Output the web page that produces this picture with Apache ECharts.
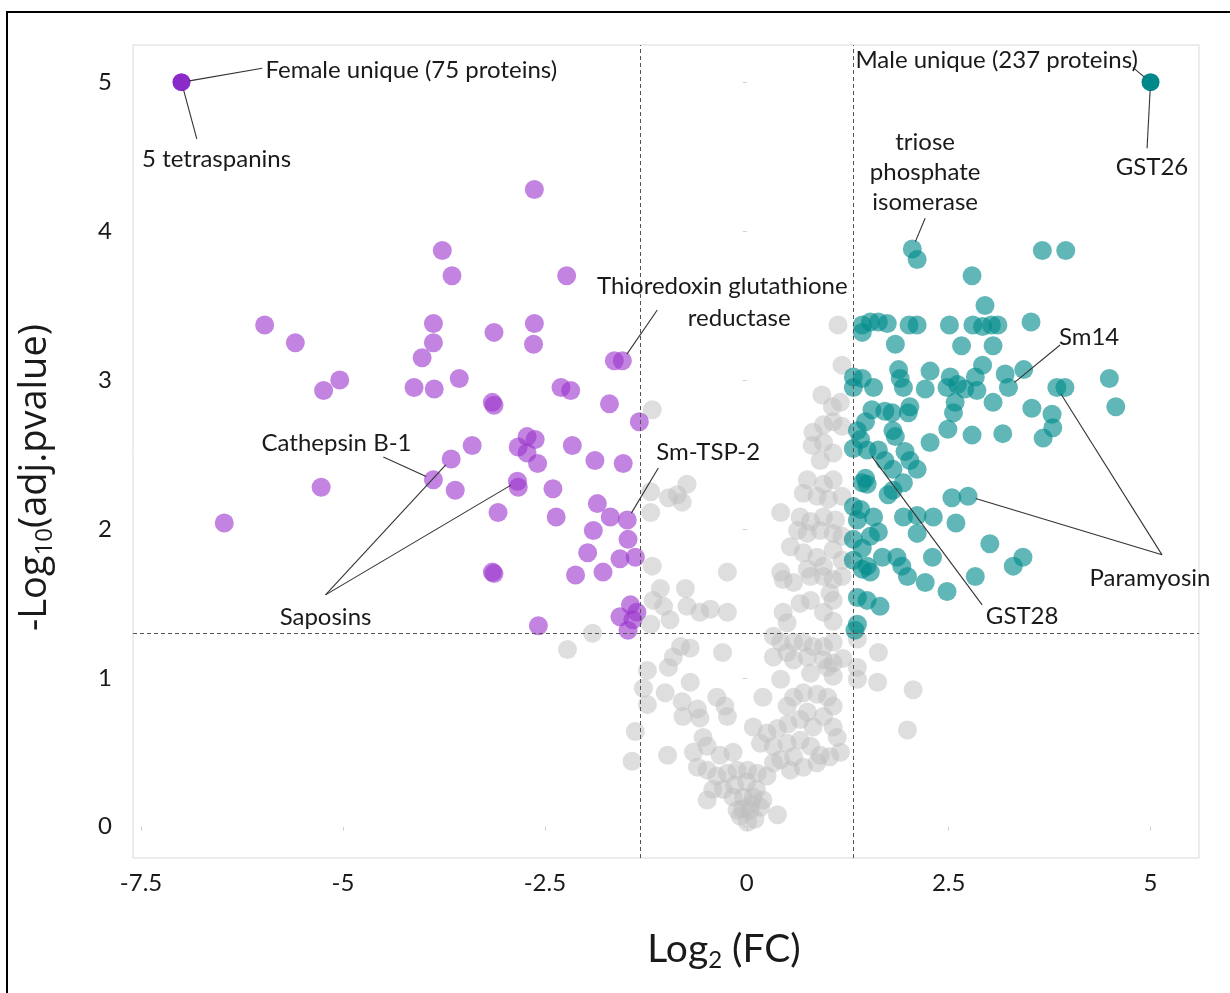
<!DOCTYPE html>
<html>
<head>
<meta charset="utf-8">
<script src="https://cdn.jsdelivr.net/npm/echarts@6/dist/echarts.min.js"></script>
<style>
html,body{margin:0;padding:0;background:#fff;}
#chart{width:1230px;height:993px;}
</style>
</head>
<body>
<div id="chart"></div>
<script>
// ---------------- DATA ----------------
const xTickValues = [-7.5, -5, -2.5, 0, 2.5, 5];
const yTickValues = [0, 1, 2, 3, 4, 5];
const fcCutoffs = [-1.32, 1.32];
const pCutoff = 1.3;

const femaleUnique = [[-7, 5]];
const maleUnique = [[5, 5]];

const femaleUp = [
[-2.63,4.28],[-3.77,3.87],[-3.65,3.70],[-2.23,3.70],[-5.97,3.37],[-5.59,3.25],[-3.88,3.38],[-3.88,3.25],
[-4.02,3.15],[-3.13,3.32],[-2.63,3.38],[-2.64,3.24],[-1.64,3.13],[-1.54,3.13],[-5.24,2.93],[-5.04,3.00],
[-4.12,2.95],[-3.87,2.94],[-3.56,3.01],[-3.15,2.85],[-3.13,2.83],[-2.30,2.95],[-2.18,2.93],[-1.70,2.84],
[-1.33,2.72],[-3.40,2.56],[-3.66,2.47],[-3.88,2.33],[-3.61,2.26],[-5.27,2.28],[-6.47,2.04],[-2.72,2.62],
[-2.62,2.60],[-2.83,2.55],[-2.72,2.51],[-2.59,2.44],[-2.16,2.56],[-1.88,2.46],[-1.53,2.44],[-2.84,2.32],
[-2.83,2.28],[-2.40,2.27],[-3.08,2.11],[-2.36,2.08],[-1.85,2.17],[-1.69,2.08],[-1.48,2.06],[-1.90,1.99],
[-1.47,1.93],[-1.97,1.84],[-1.57,1.80],[-1.38,1.81],[-2.12,1.69],[-1.78,1.71],[-3.15,1.71],[-3.13,1.70],
[-2.58,1.35],[-1.57,1.41],[-1.44,1.49],[-1.36,1.44],[-1.47,1.32],[-1.41,1.39]
];

const maleUp = [
[2.05,3.88],[2.11,3.81],[3.66,3.87],[3.95,3.87],[2.79,3.70],[2.95,3.50],
[1.43,3.37],[1.53,3.39],[1.63,3.39],[1.74,3.38],[2.01,3.37],[2.11,3.37],[2.51,3.37],[2.80,3.37],
[2.92,3.36],[3.03,3.37],[3.11,3.37],[3.52,3.39],[1.43,3.32],[1.84,3.24],[2.66,3.23],[3.05,3.23],
[1.32,3.02],[1.43,3.01],[1.32,2.95],[1.57,2.95],[1.88,3.07],[1.90,3.01],[1.94,2.95],[2.27,3.06],
[2.21,2.94],[2.52,3.02],[2.61,2.97],[2.48,2.95],[2.70,2.94],[2.83,3.02],[2.92,3.10],[2.85,2.93],
[3.20,3.04],[3.24,2.95],[3.43,3.07],[3.84,2.95],[3.94,2.95],[4.49,3.01],[4.57,2.82],
[1.55,2.80],[1.47,2.72],[1.71,2.79],[1.80,2.78],[2.02,2.82],[2.00,2.78],[2.58,2.85],[2.56,2.78],
[3.05,2.85],[3.53,2.81],[3.78,2.77],[3.79,2.68],[3.67,2.61],[1.81,2.66],[1.84,2.62],[2.49,2.67],
[2.79,2.63],[3.17,2.64],[2.27,2.58],[1.37,2.66],[1.41,2.60],[1.32,2.54],[1.49,2.53],[1.63,2.53],
[1.71,2.46],[1.96,2.52],[2.02,2.46],[1.81,2.40],[2.11,2.40],[1.47,2.34],[1.43,2.31],[1.49,2.30],
[1.75,2.23],[1.81,2.26],[1.94,2.31],[2.54,2.21],[2.74,2.22],[1.32,2.15],[1.41,2.13],[1.57,2.08],
[1.37,2.06],[1.94,2.08],[2.11,2.09],[2.31,2.08],[2.11,1.97],[2.59,2.04],[1.63,1.98],[1.53,1.95],
[1.32,1.93],[1.43,1.87],[3.01,1.90],[1.68,1.81],[1.86,1.81],[1.92,1.75],[1.99,1.68],[2.21,1.64],
[2.30,1.81],[3.42,1.81],[3.30,1.75],[2.83,1.68],[2.48,1.58],[1.32,1.79],[1.49,1.75],[1.53,1.71],
[1.43,1.73],[1.37,1.54],[1.49,1.52],[1.65,1.48],[1.37,1.36],[1.34,1.32]
];

const notSignificant = [
[1.13,3.37],[1.18,3.10],[-1.17,2.80],[0.93,2.90],[1.06,2.82],[1.16,2.85],[0.95,2.70],[1.07,2.72],
[0.82,2.65],[1.18,2.69],[0.81,2.56],[0.95,2.58],[1.07,2.51],[0.91,2.46],[-0.74,2.30],[-0.86,2.23],
[-0.97,2.21],[-0.80,2.18],[-1.19,2.25],[-1.19,2.11],[0.75,2.33],[0.95,2.30],[1.07,2.33],[0.70,2.24],
[0.87,2.22],[1.01,2.20],[1.18,2.22],[0.42,2.11],[0.66,2.08],[0.79,2.05],[0.95,2.08],[1.10,2.06],
[0.63,1.99],[0.75,1.97],[0.91,1.99],[1.07,1.97],[1.18,1.95],[0.54,1.88],[0.70,1.84],[0.87,1.81],
[1.07,1.86],[1.18,1.79],[0.95,1.75],[0.75,1.73],[0.42,1.71],[-0.24,1.71],[-1.17,1.75],
[-1.07,1.60],[-0.76,1.60],[-1.16,1.52],[-1.03,1.48],[-0.95,1.39],[-0.74,1.48],[-0.58,1.44],[-0.45,1.46],
[-0.24,1.44],[-1.19,1.36],[0.45,1.66],[0.58,1.64],[0.79,1.68],[0.95,1.68],[1.07,1.66],[1.18,1.68],
[1.03,1.57],[1.07,1.52],[0.45,1.44],[0.66,1.50],[0.79,1.52],[0.95,1.44],[1.07,1.38],[0.50,1.37],
[0.33,1.28],[0.42,1.24],[0.58,1.24],[0.70,1.24],[0.82,1.21],[0.95,1.21],[1.07,1.24],[0.33,1.14],
[0.50,1.17],[0.58,1.12],[0.75,1.14],[0.95,1.12],[1.07,1.10],[1.19,1.13],[0.42,0.99],[0.79,1.03],
[1.00,1.07],[1.07,1.01],[1.37,1.07],[1.37,0.99],[-2.22,1.19],[-1.91,1.30],[-0.82,1.21],[-0.70,1.20],
[-0.91,1.14],[-0.97,1.07],[-1.23,1.05],[-0.30,1.17],[-0.70,0.97],[-1.01,0.90],[-1.28,0.93],[-1.23,0.82],
[-0.80,0.84],[-0.61,0.79],[-0.79,0.74],[-0.58,0.73],[-0.37,0.87],[-0.27,0.81],[-0.24,0.74],[0.20,0.87],
[0.58,0.87],[0.70,0.90],[0.87,0.89],[1.00,0.87],[1.07,0.81],[0.50,0.81],[0.75,0.77],[0.95,0.74],
[1.07,0.67],[1.12,0.60],[1.16,0.50],[0.82,0.67],[0.66,0.72],[0.08,0.67],[0.25,0.63],[0.38,0.66],
[0.51,0.69],[0.17,0.56],[0.33,0.54],[0.50,0.56],[0.66,0.58],[0.79,0.54],[0.91,0.48],[0.58,0.47],
[-0.54,0.60],[-0.49,0.54],[-0.66,0.50],[-0.33,0.48],[-0.17,0.50],[-0.98,0.48],[-1.38,0.64],[-1.42,0.44],
[-0.61,0.40],[-0.49,0.38],[-0.37,0.34],[-0.24,0.36],[-0.12,0.38],[0.01,0.38],[0.13,0.36],[0.25,0.34],
[-0.42,0.25],[-0.29,0.25],[-0.17,0.20],[-0.04,0.20],[0.08,0.20],[0.20,0.18],[-0.49,0.18],[-0.12,0.11],
[0.04,0.11],[0.17,0.13],[-0.08,0.07],[0.01,0.03],[0.38,0.08],[0.33,0.43],[0.42,0.45],[0.54,0.38],
[0.70,0.40],[0.87,0.43],[1.03,0.47],[1.63,1.17],[1.62,0.97],[2.06,0.92],[1.99,0.65],[1.37,1.26],
[0.10,0.05],[0.05,0.15],[-0.05,0.12],[0.12,0.25],[0.00,0.30],[-0.15,0.28]
];

// annotation texts and the points they refer to
const annotationTexts = [
  'Female unique (75 proteins)', '5 tetraspanins', 'Male unique (237 proteins)', 'GST26',
  'triose\nphosphate\nisomerase', 'Thioredoxin glutathione', 'reductase', 'Cathepsin B-1',
  'Saposins', 'Sm-TSP-2', 'Sm14', 'GST28', 'Paramyosin'
];
const annotationTargets = [
  [[-7,5]], [[-7,5]], [[5,5]], [[5,5]],
  [[2.05,3.88]], [[-1.54,3.13]], [], [[-3.88,2.33]],
  [[-3.66,2.47],[-2.84,2.32]], [[-1.48,2.06]], [[3.24,2.95]], [[1.49,2.53]], [[2.74,2.22],[3.84,2.95]]
];

// ---------------- LAYOUT (annotation placement in axis units) ----------------
const annotationLayout = [
  {at:[-5.96,5.08], align:'left',  join:[-6.00,5.094]},
  {at:[-6.565,4.483], align:'center', join:[-6.81,4.62]},
  {at:[1.345,5.148], align:'left', join:[4.78,5.10]},
  {at:[5.018,4.43], align:'center', join:[4.957,4.557]},
  {at:[2.209,4.396], align:'center', join:[2.209,4.087]},
  {at:[-0.303,3.631], align:'center', join:[-1.108,3.47]},
  {at:[-0.093,3.416], align:'center', join:null},
  {at:[-5.08,2.577], align:'center', join:[-4.5,2.483]},
  {at:[-5.216,1.409], align:'center', join:[-5.216,1.557]},
  {at:[-0.477,2.517], align:'center', join:[-1.095,2.409]},
  {at:[4.239,3.289], align:'center', join:[3.88,3.235]},
  {at:[3.41,1.416], align:'center', join:[2.915,1.49]},
  {at:[4.993,1.671], align:'center', join:[5.142,1.826]}
];

const FONT = 'Lato, "Open Sans", sans-serif';
const YFONT = '"Open Sans", Lato, sans-serif';
const chart = echarts.init(document.getElementById('chart'), null, {renderer:'canvas'});

const dotSize = 19;
const option = {
  backgroundColor: '#ffffff',
  animation: false,
  grid: {left:133, right:31, top:45, bottom:135, show:true, borderColor:'#d9d9d9', borderWidth:1, outerBoundsMode:'none', containLabel:false},
  xAxis: {
    type:'value', min:-7.6, max:5.6,
    splitLine:{show:false},
    axisLine:{show:false},
    axisTick:{show:true, customValues:xTickValues, length:4, lineStyle:{color:'#d0d0d0'}},
    axisLabel:{customValues:xTickValues, fontSize:24, fontFamily:FONT, color:'#1a1a1a', margin:13, formatter:(v)=>String(v)},
    name:'{a|Log}{s|2}{a| (FC)}', nameLocation:'middle', nameGap:68,
    nameTextStyle:{padding:[0,0,0,116], rich:{a:{fontSize:39, fontFamily:FONT, color:'#1a1a1a'}, s:{fontSize:24, fontFamily:FONT, color:'#1a1a1a', padding:[22,0,0,0]}}}
  },
  yAxis: {
    type:'value', min:-0.21, max:5.25,
    splitLine:{show:false},
    axisLine:{show:false},
    axisTick:{show:true, customValues:yTickValues, length:4, lineStyle:{color:'#d0d0d0'}},
    axisLabel:{customValues:yTickValues, fontSize:24, fontFamily:FONT, color:'#1a1a1a', margin:21, formatter:(v)=>String(v)},
    name:'{a|-Log}{s|10}{a|(adj.pvalue)}', nameLocation:'middle', nameRotate:90, nameGap:76,
    nameTextStyle:{padding:[0,52,0,0], rich:{a:{fontSize:38, fontFamily:YFONT, color:'#1a1a1a'}, s:{fontSize:24, fontFamily:YFONT, color:'#1a1a1a', padding:[20,0,0,0]}}}
  },
  series: [
    {type:'scatter', name:'ns', data:notSignificant, symbolSize:dotSize, silent:true,
     itemStyle:{color:'#bdbdbd', opacity:0.5},
     markLine:{silent:true, symbol:['none','none'], label:{show:false},
       lineStyle:{color:'#555', width:1, type:[4,3]},
       data:[{xAxis:fcCutoffs[0]},{xAxis:fcCutoffs[1]},{yAxis:pCutoff}]}},
    {type:'scatter', name:'female', data:femaleUp, symbolSize:dotSize, silent:true, itemStyle:{color:'#9932cc', opacity:0.6}},
    {type:'scatter', name:'male', data:maleUp, symbolSize:dotSize, silent:true, itemStyle:{color:'#008b8b', opacity:0.62}},
    {type:'scatter', name:'femaleUnique', data:femaleUnique, symbolSize:18, silent:true, itemStyle:{color:'#8a2bc9', opacity:1}},
    {type:'scatter', name:'maleUnique', data:maleUnique, symbolSize:18, silent:true, itemStyle:{color:'#00878a', opacity:1}}
  ]
};
chart.setOption(option);

// ---------------- annotations ----------------
function toPx(p){ return chart.convertToPixel({gridIndex:0}, p); }
const graphics = [];
// outer frame of the figure
graphics.push({type:'rect', z:100, silent:true, shape:{x:7, y:12, width:1400, height:1200}, style:{fill:null, stroke:'#000', lineWidth:2}});
annotationTexts.forEach((txt, i) => {
  const lay = annotationLayout[i];
  const p = toPx(lay.at);
  graphics.push({type:'text', z:110, silent:true, x:p[0], y:p[1],
    style:{text:txt, fontSize:24, fontFamily:FONT, fill:'#1a1a1a', align:lay.align, verticalAlign:'middle', lineHeight:30}});
  if (lay.join) {
    const j = toPx(lay.join);
    annotationTargets[i].forEach(t => {
      const c = toPx(t);
      const dx = j[0]-c[0], dy = j[1]-c[1];
      const len = Math.sqrt(dx*dx+dy*dy) || 1;
      const r = 8;
      graphics.push({type:'line', z:105, silent:true,
        shape:{x1:c[0]+dx/len*r, y1:c[1]+dy/len*r, x2:j[0], y2:j[1]},
        style:{stroke:'#333', lineWidth:1.1}});
    });
  }
});
chart.setOption({graphic: graphics});
</script>
</body>
</html>
